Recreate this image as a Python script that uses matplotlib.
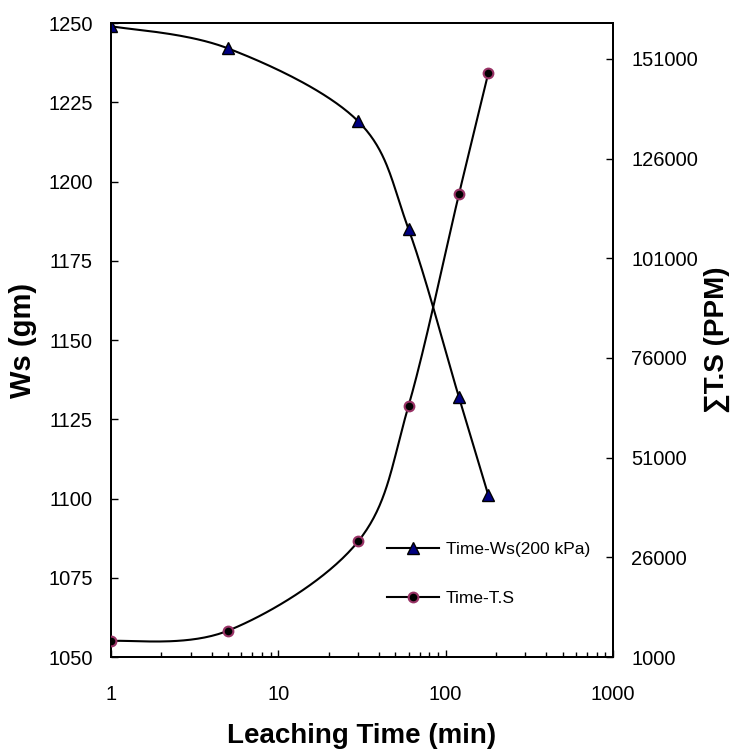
import numpy as np
import matplotlib
matplotlib.use("Agg")
import matplotlib.pyplot as plt
from matplotlib.ticker import FixedLocator, NullFormatter

plt.rcParams['font.family'] = ['Liberation Sans', 'DejaVu Sans']

# leaching time (min) and measurements
time_min = [1, 5, 30, 60, 120, 180]
ws_gm = [1249, 1242, 1219, 1185, 1132, 1101]
ts_ppm = [5000, 7600, 30000, 64000, 117000, 147500]

x_ticks = [1, 10, 100, 1000]
ws_ticks = list(range(1050, 1251, 25))
ts_ticks = list(range(1000, 151001, 25000))


def smooth(xs, ys, ylo, yhi, n=40):
    # Bezier smoothing done in log-x / normalised-y space (spreadsheet style)
    u = np.log10(np.asarray(xs, float))
    v = (np.asarray(ys, float) - ylo) / (yhi - ylo)
    p = np.column_stack([u * 1.0, v * 1.26])
    pts = np.vstack([p[0], p, p[-1]])
    out = []
    for i in range(1, len(pts) - 2):
        p0, p1, p2, p3 = pts[i - 1], pts[i], pts[i + 1], pts[i + 2]
        c1 = p1 + (p2 - p0) / 6
        c2 = p2 - (p3 - p1) / 6
        t = np.linspace(0, 1, n)[:, None]
        seg = ((1 - t) ** 3) * p1 + 3 * ((1 - t) ** 2) * t * c1 + 3 * (1 - t) * t ** 2 * c2 + t ** 3 * p2
        out.append(seg if i == 1 else seg[1:])
    c = np.vstack(out)
    return 10 ** c[:, 0], c[:, 1] / 1.26 * (yhi - ylo) + ylo


fig = plt.figure(figsize=(7.42, 7.52), dpi=100)
ax = fig.add_axes([0.1496, 0.1263, 0.6765, 0.8431])
ax2 = ax.twinx()

ws_lo, ws_hi = 1050, 1250
ts_lo, ts_hi = 1000, 160000

sx, sy = smooth(time_min, ws_gm, ws_lo, ws_hi)
ax.plot(sx, sy, color='black', lw=1.5, zorder=2)
h1, = ax.plot(time_min, ws_gm, ls='none', marker='^', ms=9, mfc='#000080',
              mec='black', mew=1.0, zorder=3)

tx, ty = smooth(time_min, ts_ppm, ts_lo, ts_hi)
ax2.plot(tx, ty, color='black', lw=1.5, zorder=2)
h2, = ax2.plot(time_min, ts_ppm, ls='none', marker='o', ms=7, mfc='black',
               mec='#993366', mew=1.5, zorder=3)

ax.set_xscale('log')
ax.set_xlim(1, 1000)
ax.set_ylim(ws_lo, ws_hi)
ax2.set_ylim(ts_lo, ts_hi)

ax.xaxis.set_major_locator(FixedLocator(x_ticks))
ax.set_xticklabels([str(v) for v in x_ticks])
ax.xaxis.set_minor_formatter(NullFormatter())
ax.set_yticks(ws_ticks)
ax.set_yticklabels([str(v) for v in ws_ticks])
ax2.set_yticks(ts_ticks)
ax2.set_yticklabels([str(v) for v in ts_ticks])

ax.tick_params(axis='both', which='major', direction='in', length=5, width=1,
               labelsize=14.5, pad=13)
ax.tick_params(axis='x', which='minor', direction='in', length=3.5, width=1)
ax.tick_params(axis='x', which='major', pad=20)
ax2.tick_params(axis='y', direction='in', length=5, width=1, labelsize=14.5, pad=13)

for a in (ax, ax2):
    for s in a.spines.values():
        s.set_linewidth(1.4)

ax.set_xlabel('Leaching Time (min)', fontsize=20, fontweight='bold', labelpad=14)
ax.set_ylabel('Ws (gm)', fontsize=21, fontweight='bold', labelpad=8)
ax2.set_ylabel('\u2211T.S (PPM)', fontsize=20, fontweight='bold', labelpad=4)

leg = ax2.legend([h1, h2], ['Time-Ws(200 kPa)', 'Time-T.S'],
                 frameon=False, fontsize=12.5,
                 loc='center left', bbox_to_anchor=(0.532, 0.131),
                 borderpad=0, handlelength=3.0, handletextpad=0.4,
                 labelspacing=2.0)
# legend handles show the connecting line too
for line in leg.get_lines():
    line.set_linestyle('-')
    line.set_color('black')
    line.set_linewidth(1.5)

fig.savefig('out.png', dpi=100)
